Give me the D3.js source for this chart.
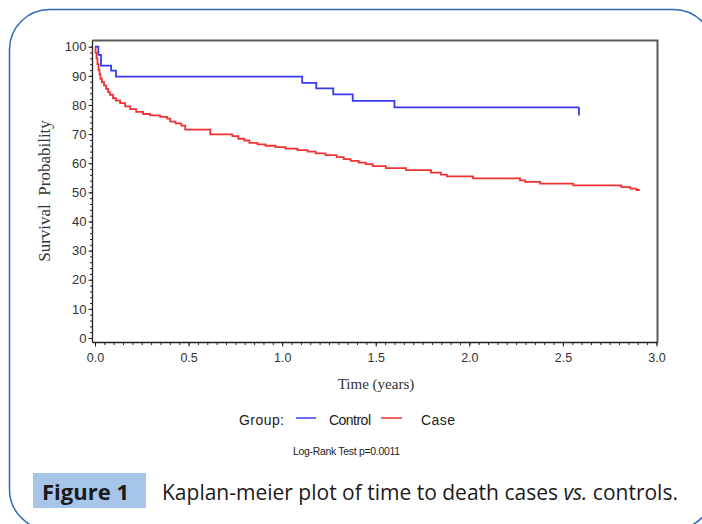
<!DOCTYPE html>
<html>
<head>
<meta charset="utf-8">
<script src="https://cdn.jsdelivr.net/npm/d3@7"></script>
<style>
  html, body { margin: 0; padding: 0; background: #fff; }
  svg { display: block; }
</style>
</head>
<body>
<svg id="chart" width="702" height="524"></svg>
<script>
// ---- Data ----
// Control group: [time in years, survival % after the step]
const controlTimes    = [0, 0.018, 0.032, 0.086, 0.112, 1.107, 1.182, 1.273, 1.377, 1.600, 2.586];
const controlSurvival = [100, 97.2, 93.5, 91.8, 89.7, 87.6, 85.7, 83.6, 81.4, 79.2, 79.2];
const controlEndTick  = [79.2, 76.4];

// Case group
const caseTimes = [0, 0.003, 0.008, 0.013, 0.019, 0.024, 0.029, 0.037, 0.048, 0.059, 0.070,
  0.080, 0.096, 0.112, 0.134, 0.161, 0.188, 0.220, 0.257, 0.295, 0.348, 0.386, 0.402,
  0.430, 0.461, 0.482, 0.616, 0.734, 0.766, 0.798, 0.825, 0.868, 0.911, 0.964, 1.018,
  1.082, 1.136, 1.179, 1.232, 1.291, 1.329, 1.366, 1.409, 1.446, 1.484, 1.554, 1.661,
  1.795, 1.848, 1.880, 2.020, 2.271, 2.298, 2.378, 2.555, 2.812, 2.861, 2.893, 2.911];
const caseSurvival = [100, 98, 96, 94, 92, 90.5, 89, 87.8, 86.7, 85.5, 84.4,
  83.5, 82.3, 81.5, 80.6, 79.5, 78.6, 77.6, 76.9, 76.4, 75.9, 75.3, 74.3,
  73.7, 72.9, 71.5, 69.9, 69.3, 68.4, 67.8, 67.0, 66.5, 66.0, 65.5, 65.0,
  64.5, 64.0, 63.4, 62.8, 62.1, 61.4, 60.8, 60.2, 59.7, 59.0, 58.3, 57.6,
  56.8, 56.1, 55.5, 54.8, 54.1, 53.6, 53.0, 52.4, 51.8, 51.3, 50.8, 50.8];

const xTicks = [0, 0.5, 1.0, 1.5, 2.0, 2.5, 3.0];
const xTickLabels = ["0.0", "0.5", "1.0", "1.5", "2.0", "2.5", "3.0"];
const yTicks = [0, 10, 20, 30, 40, 50, 60, 70, 80, 90, 100];
const groupNames = ["Control", "Case"];
const groupColors = ["#3a3af2", "#f23232"];

// ---- Drawing ----
const svg = d3.select("#chart");

// Rounded frame
svg.append("rect")
  .attr("x", 9.5).attr("y", 9.5).attr("width", 704).attr("height", 520)
  .attr("rx", 40).attr("ry", 40)
  .attr("fill", "none").attr("stroke", "#2b6cb8").attr("stroke-width", 1.5);

const x = d3.scaleLinear().domain([0, 3]).range([95, 656.5]);
const y = d3.scaleLinear().domain([0, 100]).range([338, 46.7]);

const pLeft = 92.5, pRight = 657.5, pTop = 40.5, pBottom = 342.5;

// Plot frame (top and right)
svg.append("path")
  .attr("d", `M${pLeft},${pTop}H${pRight}V${pBottom}`)
  .attr("fill", "none").attr("stroke", "#5a5a5a").attr("stroke-width", 2);

// X axis
const xAxisG = svg.append("g").attr("transform", `translate(0,${pBottom})`);
xAxisG.call(d3.axisBottom(x).tickValues(d3.range(0, 3.0001, 0.05)).tickSize(2.5).tickFormat(""))
  .call(g => g.select(".domain").remove());
xAxisG.selectAll(".tick line").attr("stroke", "#222");
const xMajor = svg.append("g").attr("transform", `translate(0,${pBottom})`)
  .call(d3.axisBottom(x).tickValues(xTicks).tickSize(4).tickPadding(7)
    .tickFormat((d, i) => xTickLabels[i]));
xMajor.select(".domain").remove();
xMajor.selectAll(".tick line").attr("stroke", "#222");
xMajor.selectAll("text").attr("font-family", "Liberation Sans, Arial, sans-serif")
  .attr("font-size", 12.5).attr("fill", "#333");
svg.append("line").attr("x1", pLeft).attr("x2", pRight).attr("y1", pBottom).attr("y2", pBottom)
  .attr("stroke", "#222").attr("stroke-width", 1.3);

// Y axis
const yMinor = svg.append("g").attr("transform", `translate(${pLeft},0)`)
  .call(d3.axisLeft(y).tickValues(d3.range(0, 100.001, 2)).tickSize(2.5).tickFormat(""));
yMinor.select(".domain").remove();
yMinor.selectAll(".tick line").attr("stroke", "#222");
const yMajor = svg.append("g").attr("transform", `translate(${pLeft},0)`)
  .call(d3.axisLeft(y).tickValues(yTicks).tickSize(4).tickPadding(2).tickFormat(d3.format("d")));
yMajor.select(".domain").remove();
yMajor.selectAll(".tick line").attr("stroke", "#222");
yMajor.selectAll("text").attr("font-family", "Liberation Sans, Arial, sans-serif")
  .attr("font-size", 13).attr("fill", "#333");
svg.append("line").attr("x1", pLeft).attr("x2", pLeft).attr("y1", pTop).attr("y2", pBottom)
  .attr("stroke", "#222").attr("stroke-width", 1.3);

// Axis titles
svg.append("text")
  .attr("transform", `translate(50,191) rotate(-90)`)
  .attr("text-anchor", "middle")
  .attr("font-family", "Liberation Serif, Times New Roman, serif")
  .attr("font-size", 17).attr("fill", "#333")
  .attr("xml:space", "preserve")
  .text("Survival  Probability");
svg.append("text")
  .attr("x", 376).attr("y", 389)
  .attr("text-anchor", "middle")
  .attr("font-family", "Liberation Serif, Times New Roman, serif")
  .attr("font-size", 15).attr("fill", "#333")
  .text("Time (years)");

// Curves
const line = d3.line().x(d => x(d[0])).y(d => y(d[1])).curve(d3.curveStepAfter);
const controlData = controlTimes.map((t, i) => [t, controlSurvival[i]]);
const caseData = caseTimes.map((t, i) => [t, caseSurvival[i]]);

svg.append("path").datum(caseData).attr("d", line)
  .attr("fill", "none").attr("stroke", groupColors[1]).attr("stroke-width", 1.8);
svg.append("path").datum(controlData).attr("d", line)
  .attr("fill", "none").attr("stroke", groupColors[0]).attr("stroke-width", 1.8);
const lastT = controlTimes[controlTimes.length - 1];
svg.append("line")
  .attr("x1", x(lastT)).attr("x2", x(lastT))
  .attr("y1", y(controlEndTick[0])).attr("y2", y(controlEndTick[1]))
  .attr("stroke", groupColors[0]).attr("stroke-width", 1.8);

// Legend
const legFont = "Liberation Sans, Arial, sans-serif";
svg.append("text").attr("x", 239).attr("y", 425)
  .attr("font-family", legFont).attr("font-size", 14).attr("fill", "#222")
  .attr("textLength", 45).text("Group:");
const legItems = [
  { lx: 296, lw: 20, tx: 329, w: 42 },
  { lx: 381, lw: 21, tx: 421, w: 34 }
];
legItems.forEach((it, i) => {
  svg.append("line").attr("x1", it.lx).attr("x2", it.lx + it.lw)
    .attr("y1", 418).attr("y2", 418)
    .attr("stroke", groupColors[i]).attr("stroke-width", 1.5);
  svg.append("text").attr("x", it.tx).attr("y", 425)
    .attr("font-family", legFont).attr("font-size", 14).attr("fill", "#222")
    .attr("textLength", it.w).text(groupNames[i]);
});

svg.append("text").attr("x", 293).attr("y", 455)
  .attr("font-family", legFont).attr("font-size", 10.5).attr("fill", "#222")
  .attr("textLength", 107)
  .text("Log-Rank Test p=0.0011");

// Caption
svg.append("rect").attr("x", 33).attr("y", 473).attr("width", 113).attr("height", 35)
  .attr("fill", "#a7c4e9");
const fig = svg.append("text").attr("x", 42).attr("y", 500)
  .attr("font-family", "Open Sans, Noto Sans, sans-serif").attr("font-weight", "bold")
  .attr("font-size", 21).attr("fill", "#1a1a1a").text("Figure 1");
const fw = fig.node().getComputedTextLength();
fig.attr("font-size", 21 * 87 / fw);
const cap = svg.append("text").attr("x", 162).attr("y", 500)
  .attr("font-family", "Open Sans, Noto Sans, sans-serif")
  .attr("font-size", 20).attr("fill", "#1a1a1a");
cap.append("tspan").text("Kaplan-meier plot of time to death cases ");
cap.append("tspan").attr("font-style", "italic").text("vs.");
cap.append("tspan").text(" controls.");
const cw = cap.node().getComputedTextLength();
cap.attr("font-size", Math.min(21, 20 * 520 / cw));
</script>
</body>
</html>
